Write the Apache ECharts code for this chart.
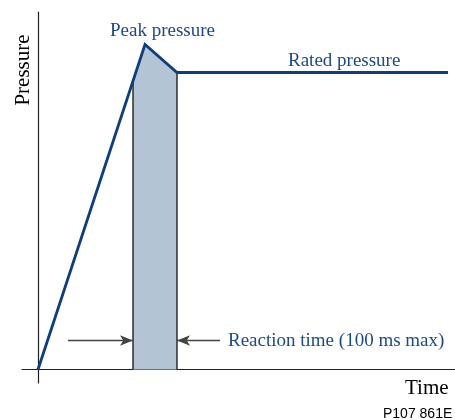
<!DOCTYPE html>
<html>
<head>
<meta charset="utf-8">
<script src="https://cdn.jsdelivr.net/npm/echarts@6/dist/echarts.min.js"></script>
<style>html,body{margin:0;padding:0;background:#fff}#c{width:455px;height:420px}</style>
</head>
<body>
<div id="c"></div>
<script>
// Time (arbitrary units) vs pressure (arbitrary units)
var pressureCurve = [[0, 0], [107, 325], [139, 297], [410, 297]];
var reactionWindow = [[95, 287], [107, 325], [139, 297]];
var reactionStart = 95, reactionEnd = 139;
var reactionStartTop = 287, reactionEndTop = 297;
var arrowLevel = 29;
var leftArrowTail = 30, rightArrowTail = 182;
var labels = {
  peak: 'Peak pressure',
  rated: 'Rated pressure',
  reaction: 'Reaction time (100 ms max)',
  yName: 'Pressure',
  xName: 'Time',
  code: 'P107 861E'
};

var lineColor = '#0f3f7a';
var textBlue = '#1c4a86';
var serif = '"Liberation Serif", "DejaVu Serif", serif';

var chart = echarts.init(document.getElementById('c'), null, {renderer: 'canvas'});
chart.setOption({
  animation: false,
  grid: {left: 22, right: 0, top: 12, bottom: 37, containLabel: false},
  xAxis: {
    type: 'value', min: -16, max: 417,
    axisLine: {onZero: true, lineStyle: {color: '#222', width: 1.2}},
    axisTick: {show: false}, axisLabel: {show: false}, splitLine: {show: false}
  },
  yAxis: {
    type: 'value', min: -13.5, max: 357.5,
    axisLine: {show: true, onZero: true, lineStyle: {color: '#222', width: 1.2}},
    axisTick: {show: false}, axisLabel: {show: false}, splitLine: {show: false}
  },
  series: [
    {
      type: 'line', data: reactionWindow, symbol: 'none', z: 1,
      lineStyle: {width: 0}, areaStyle: {color: '#b3c4d4', opacity: 1, origin: 0}
    },
    {
      type: 'line', data: [[reactionStart, 0], [reactionStart, reactionStartTop]], symbol: 'none', z: 2,
      lineStyle: {color: '#111', width: 1.3}
    },
    {
      type: 'line', data: [[reactionEnd, 0], [reactionEnd, reactionEndTop]], symbol: 'none', z: 2,
      lineStyle: {color: '#111', width: 1.3}
    },
    {
      type: 'line', data: pressureCurve, symbol: 'none', z: 3,
      lineStyle: {color: lineColor, width: 2.8, join: 'miter'},
      markLine: {
        silent: true, symbol: ['none', 'arrow'], symbolSize: [8, 13],
        label: {show: false},
        lineStyle: {color: '#444', width: 1.3, type: 'solid'},
        data: [
          [{coord: [leftArrowTail, arrowLevel]}, {coord: [reactionStart, arrowLevel]}],
          [{coord: [rightArrowTail, arrowLevel]}, {coord: [reactionEnd, arrowLevel]}]
        ]
      }
    }
  ],
  graphic: [
    {type: 'text', left: 110, top: 22, style: {text: labels.peak, font: '19px ' + serif, fill: textBlue}},
    {type: 'text', left: 288, top: 52, style: {text: labels.rated, font: '19px ' + serif, fill: textBlue}},
    {type: 'text', left: 228, top: 332, style: {text: labels.reaction, font: '19px ' + serif, fill: textBlue}},
    {type: 'text', x: 23, y: 70, rotation: Math.PI / 2, style: {text: labels.yName, font: '21px ' + serif, fill: '#000', textAlign: 'center', textVerticalAlign: 'middle'}},
    {type: 'text', left: 405, top: 378, style: {text: labels.xName, font: '21px ' + serif, fill: '#000'}},
    {type: 'text', left: 383, top: 407, style: {text: labels.code, font: '14px "Liberation Sans", Arial, sans-serif', fill: '#000'}}
  ]
});
</script>
</body>
</html>
